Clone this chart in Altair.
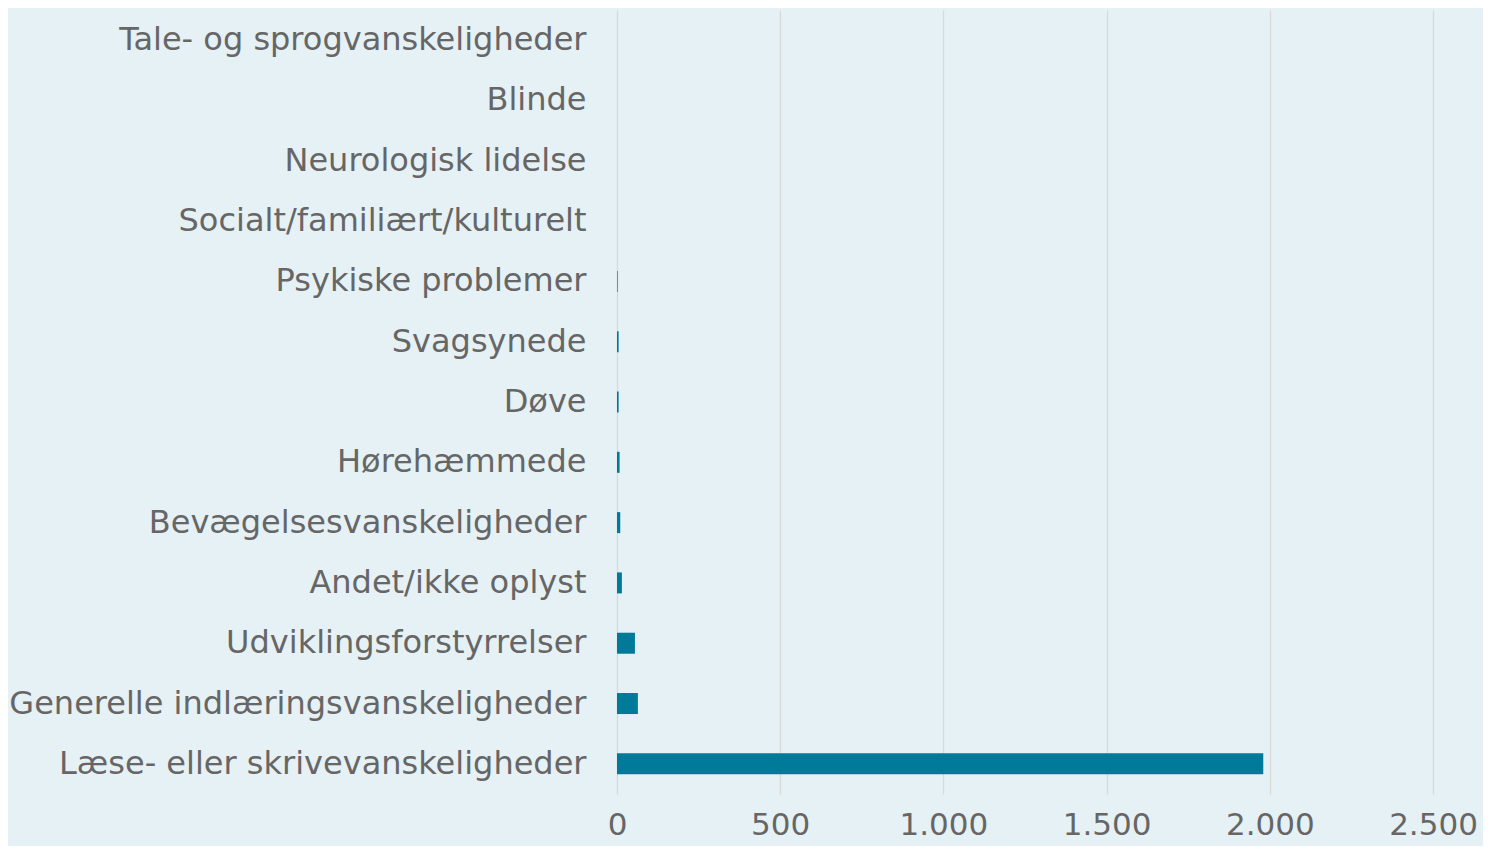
import altair as alt
import pandas as pd

categories = [
    "Tale- og sprogvanskeligheder",
    "Blinde",
    "Neurologisk lidelse",
    "Socialt/familiært/kulturelt",
    "Psykiske problemer",
    "Svagsynede",
    "Døve",
    "Hørehæmmede",
    "Bevægelsesvanskeligheder",
    "Andet/ikke oplyst",
    "Udviklingsforstyrrelser",
    "Generelle indlæringsvanskeligheder",
    "Læse- eller skrivevanskeligheder",
]
values = [0, 0, 0, 0, 2, 5, 5, 8, 10, 15, 55, 64, 1980]
tick_values = [0, 500, 1000, 1500, 2000, 2500]

df = pd.DataFrame({"kategori": categories, "antal": values})

chart = (
    alt.Chart(df)
    .mark_bar(color="#007A99", size=21)
    .encode(
        x=alt.X(
            "antal:Q",
            scale=alt.Scale(domain=[0, 2500], nice=False),
            axis=alt.Axis(
                values=tick_values,
                title=None,
                grid=True,
                gridColor="#D9D9D9",
                gridWidth=1.3,
                domain=False,
                ticks=False,
                labelFlush=False,
                labelOverlap=False,
                labelFont="DejaVu Sans",
                labelFontSize=31,
                labelColor="#666666",
                labelPadding=16,
                labelExpr="replace(format(datum.value, ','), ',', '.')",
            ),
        ),
        y=alt.Y(
            "kategori:N",
            sort=categories,
            scale=alt.Scale(paddingInner=0.0, paddingOuter=0.0),
            axis=alt.Axis(
                title=None,
                domain=False,
                ticks=False,
                grid=False,
                labelFont="DejaVu Sans",
                labelFontSize=32,
                labelColor="#666666",
                labelPadding=31,
                labelLimit=700,
            ),
        ),
    )
    .properties(
        width=816,
        height=784,
        background="#E6F1F5",
        padding={"left": 609, "top": 2, "right": 50, "bottom": 52},
        autosize=alt.AutoSizeParams(type="none"),
    )
    .configure_view(stroke=None)
)

chart.save("out.html", embed_options={"renderer": "svg", "actions": False})
